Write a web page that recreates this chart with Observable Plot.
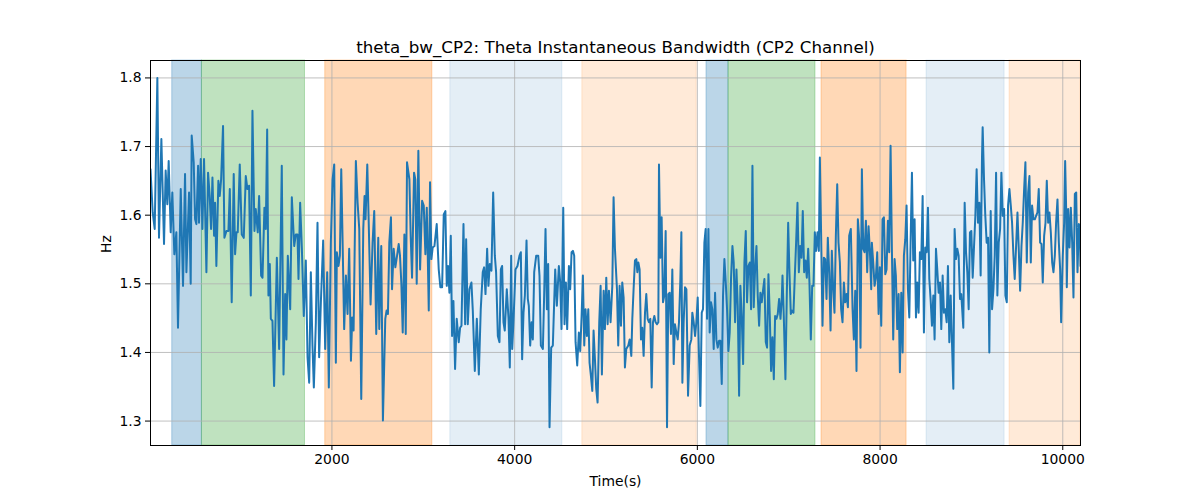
<!DOCTYPE html>
<html>
<head>
<meta charset="utf-8">
<script src="https://cdn.jsdelivr.net/npm/d3@7"></script>
<script src="https://cdn.jsdelivr.net/npm/@observablehq/plot@0.6"></script>
<style>
  html, body { margin: 0; padding: 0; background: white; }
  #chart { width: 1200px; height: 500px; }
</style>
</head>
<body>
<div id="chart"></div>
<script>
const titleText = "theta_bw_CP2: Theta Instantaneous Bandwidth (CP2 Channel)";
const xLabel = "Time(s)";
const yLabel = "Hz";
const xTicks = [2000, 4000, 6000, 8000, 10000];
const yTicks = [1.3, 1.4, 1.5, 1.6, 1.7, 1.8];
const xDomain = [14, 10194];
const yDomain = [1.2644, 1.8254];

// shaded intervals (start, end, kind)
const bandStart = [252, 577, 1927, 3296, 4741, 6100, 6341, 7359, 8509, 9418];
const bandEnd   = [577, 1705, 3099, 4522, 5993, 6341, 7293, 8290, 9363, 10194];
const bandKind  = ["blue", "green", "orange", "lightblue", "lightorange", "blue", "green", "orange", "lightblue", "lightorange"];

// series (time s, bandwidth Hz)
const seg1 = [[14,1.667],[38,1.604],[60,1.580],[89,1.800],[107,1.567],[133,1.711],[162,1.558],[180,1.665],[198,1.616],[213,1.679],[235,1.575],[253,1.633],[275,1.543],[297,1.575],[315,1.436],[345,1.638],[370,1.497],[392,1.660],[407,1.517],[436,1.633],[454,1.500],[465,1.716],[487,1.677],[502,1.594],[516,1.587],[535,1.672],[545,1.589],[564,1.682],[582,1.580],[600,1.682],[626,1.517],[644,1.662],[662,1.628],[677,1.580],[692,1.655],[710,1.570],[721,1.618],[735,1.526],[757,1.650],[772,1.628],[787,1.652],[808,1.730],[823,1.567],[845,1.577],[867,1.577],[882,1.638],[903,1.473],[925,1.660],[940,1.543],[955,1.575],[969,1.575],[991,1.674],[1013,1.572],[1035,1.567],[1057,1.657],[1075,1.638],[1093,1.643],[1112,1.483],[1130,1.752],[1152,1.577],[1166,1.609],[1188,1.575],[1203,1.628],[1225,1.512],[1240,1.509],[1261,1.611],[1276,1.580],[1291,1.725],[1305,1.483],[1320,1.529]];
const seg2 = [[1331,1.449],[1349,1.446],[1367,1.351],[1397,1.538],[1422,1.405],[1451,1.672],[1470,1.368],[1488,1.485],[1502,1.419],[1517,1.541],[1543,1.463],[1561,1.626],[1587,1.555],[1605,1.572],[1623,1.572],[1634,1.507],[1652,1.618],[1671,1.551],[1692,1.453],[1714,1.534],[1733,1.393],[1751,1.356],[1769,1.517],[1787,1.410],[1802,1.349],[1824,1.444],[1842,1.589],[1860,1.393],[1879,1.473],[1904,1.563],[1926,1.405],[1948,1.517],[1966,1.349],[1988,1.560],[2007,1.652],[2025,1.674],[2043,1.385],[2054,1.546],[2072,1.526],[2087,1.541],[2102,1.667],[2116,1.567],[2134,1.434],[2153,1.512],[2171,1.456],[2189,1.551],[2208,1.388],[2222,1.451],[2237,1.432],[2262,1.679],[2281,1.618],[2299,1.580],[2321,1.332],[2343,1.580],[2357,1.628],[2368,1.594],[2387,1.674],[2401,1.599],[2423,1.470],[2445,1.560],[2463,1.606],[2485,1.427],[2507,1.567],[2518,1.434],[2540,1.555],[2558,1.301],[2584,1.449],[2598,1.461],[2613,1.456],[2628,1.560],[2646,1.597]];
const seg3 = [[2658,1.492],[2676,1.551],[2694,1.524],[2713,1.541],[2731,1.558],[2745,1.541],[2760,1.500],[2775,1.429],[2793,1.572],[2808,1.427],[2822,1.677],[2848,1.652],[2862,1.570],[2877,1.509],[2899,1.662],[2913,1.652],[2928,1.500],[2946,1.694],[2965,1.521],[2987,1.621],[3005,1.614],[3023,1.543],[3038,1.611],[3049,1.541],[3060,1.461],[3074,1.648],[3089,1.536],[3103,1.553],[3122,1.555],[3147,1.587],[3169,1.521],[3187,1.495],[3206,1.495],[3224,1.601],[3242,1.606],[3257,1.497],[3271,1.526],[3286,1.487],[3301,1.570],[3315,1.424],[3330,1.475],[3348,1.376],[3366,1.449],[3388,1.415],[3403,1.436],[3418,1.439],[3440,1.587],[3458,1.441],[3469,1.565],[3487,1.441],[3505,1.492],[3527,1.502],[3542,1.461],[3564,1.373],[3586,1.449],[3608,1.368],[3629,1.463],[3651,1.517],[3666,1.524],[3681,1.485],[3699,1.551],[3713,1.497],[3728,1.529],[3746,1.519],[3765,1.633],[3783,1.541],[3797,1.517],[3816,1.424],[3834,1.415],[3849,1.521],[3863,1.526],[3878,1.444],[3892,1.432],[3914,1.492],[3933,1.449],[3947,1.378],[3962,1.541]];
const seg4 = [[3973,1.405],[3987,1.444],[4009,1.521],[4031,1.526],[4053,1.541],[4068,1.546],[4082,1.390],[4097,1.458],[4112,1.483],[4130,1.563],[4144,1.478],[4155,1.468],[4170,1.410],[4185,1.444],[4199,1.419],[4214,1.517],[4236,1.541],[4258,1.541],[4272,1.512],[4287,1.410],[4309,1.405],[4323,1.483],[4338,1.580],[4353,1.463],[4367,1.529],[4382,1.291],[4400,1.407],[4418,1.410],[4444,1.521],[4462,1.468],[4484,1.526],[4499,1.502],[4513,1.434],[4532,1.611],[4546,1.441],[4561,1.502],[4575,1.434],[4594,1.526],[4608,1.492],[4623,1.546],[4638,1.548],[4652,1.541],[4667,1.415],[4685,1.381],[4703,1.429],[4718,1.402],[4733,1.453],[4747,1.512],[4762,1.410],[4776,1.463],[4791,1.424],[4806,1.463],[4820,1.385],[4835,1.366],[4850,1.344],[4864,1.432],[4879,1.390],[4893,1.347],[4908,1.327],[4926,1.444],[4941,1.497],[4955,1.368],[4974,1.490],[4988,1.434],[5003,1.509],[5018,1.441],[5032,1.490],[5050,1.444],[5069,1.497],[5083,1.626],[5098,1.551],[5120,1.492],[5134,1.410],[5149,1.497],[5164,1.439],[5178,1.502],[5193,1.480],[5207,1.378],[5222,1.405],[5244,1.410],[5259,1.419],[5277,1.395]];
const seg5 = [[5288,1.449],[5302,1.492],[5317,1.534],[5332,1.536],[5343,1.517],[5354,1.531],[5368,1.521],[5383,1.419],[5397,1.436],[5412,1.395],[5427,1.458],[5441,1.485],[5456,1.449],[5470,1.444],[5485,1.449],[5500,1.349],[5514,1.444],[5529,1.453],[5543,1.444],[5558,1.441],[5573,1.444],[5580,1.674],[5595,1.538],[5609,1.597],[5624,1.473],[5638,1.483],[5653,1.577],[5668,1.291],[5682,1.485],[5697,1.487],[5711,1.427],[5726,1.521],[5741,1.383],[5755,1.441],[5770,1.429],[5785,1.419],[5799,1.444],[5814,1.507],[5825,1.575],[5836,1.356],[5850,1.444],[5865,1.495],[5880,1.492],[5898,1.337],[5916,1.410],[5934,1.419],[5945,1.458],[5960,1.444],[5975,1.424],[5989,1.444],[6004,1.480],[6018,1.395],[6033,1.322],[6048,1.458],[6062,1.463],[6077,1.560],[6091,1.580],[6106,1.449],[6121,1.580],[6135,1.429],[6150,1.473],[6164,1.463],[6179,1.405],[6194,1.487],[6208,1.419],[6223,1.407],[6238,1.417],[6252,1.417],[6267,1.354],[6281,1.483],[6296,1.536],[6311,1.502],[6325,1.463],[6340,1.402],[6354,1.429],[6369,1.509],[6384,1.555],[6398,1.531],[6413,1.444],[6428,1.521],[6442,1.468],[6457,1.337],[6471,1.497],[6486,1.451],[6501,1.383],[6515,1.531],[6530,1.577],[6544,1.473],[6559,1.526],[6574,1.531],[6588,1.463]];
const seg6 = [[6603,1.672],[6617,1.466],[6632,1.521],[6647,1.555],[6661,1.483],[6676,1.439],[6690,1.487],[6705,1.473],[6720,1.492],[6734,1.507],[6749,1.415],[6763,1.407],[6778,1.514],[6793,1.453],[6807,1.373],[6822,1.422],[6837,1.361],[6851,1.453],[6866,1.449],[6880,1.456],[6895,1.478],[6910,1.449],[6924,1.478],[6932,1.512],[6946,1.453],[6964,1.361],[6979,1.483],[6994,1.589],[7008,1.517],[7023,1.456],[7037,1.461],[7052,1.458],[7067,1.512],[7081,1.560],[7096,1.618],[7111,1.517],[7125,1.555],[7140,1.538],[7154,1.606],[7169,1.517],[7184,1.534],[7198,1.509],[7213,1.551],[7227,1.502],[7242,1.419],[7257,1.497],[7271,1.497],[7286,1.575],[7300,1.548],[7315,1.575],[7330,1.548],[7341,1.684],[7355,1.570],[7370,1.439],[7385,1.538],[7399,1.536],[7414,1.478],[7428,1.567],[7443,1.517],[7458,1.432],[7472,1.548],[7487,1.492],[7501,1.458],[7516,1.570],[7531,1.645],[7545,1.560],[7560,1.531],[7574,1.463],[7589,1.444],[7604,1.502],[7618,1.473],[7633,1.485],[7648,1.466],[7662,1.570],[7680,1.580],[7699,1.463],[7713,1.419],[7728,1.490],[7742,1.373],[7757,1.594],[7772,1.565],[7786,1.407],[7801,1.667],[7816,1.551],[7830,1.546],[7845,1.592],[7859,1.517],[7874,1.584],[7889,1.546],[7903,1.492]];
const seg7 = [[7910,1.560],[7925,1.531],[7940,1.497],[7954,1.509],[7969,1.546],[7984,1.456],[7998,1.524],[8013,1.439],[8027,1.594],[8042,1.597],[8057,1.514],[8071,1.521],[8086,1.592],[8100,1.546],[8115,1.701],[8130,1.546],[8144,1.419],[8159,1.536],[8173,1.512],[8188,1.434],[8203,1.485],[8217,1.371],[8232,1.487],[8247,1.400],[8261,1.541],[8276,1.565],[8290,1.614],[8305,1.492],[8320,1.451],[8334,1.560],[8349,1.662],[8363,1.534],[8378,1.594],[8393,1.451],[8407,1.502],[8422,1.458],[8436,1.546],[8451,1.536],[8466,1.628],[8480,1.429],[8495,1.553],[8510,1.546],[8524,1.611],[8539,1.507],[8553,1.478],[8568,1.439],[8583,1.483],[8597,1.419],[8612,1.551],[8626,1.521],[8641,1.487],[8656,1.502],[8670,1.434],[8685,1.512],[8699,1.458],[8714,1.463],[8729,1.444],[8743,1.526],[8758,1.415],[8773,1.483],[8787,1.415],[8802,1.347],[8816,1.580],[8831,1.536],[8846,1.551],[8860,1.541],[8875,1.478],[8889,1.485],[8911,1.436],[8926,1.618],[8941,1.546],[8955,1.517],[8970,1.463],[8984,1.575],[8999,1.577],[9014,1.509],[9028,1.553],[9043,1.599],[9057,1.667],[9072,1.589],[9087,1.618],[9101,1.512],[9116,1.686],[9123,1.728],[9138,1.652],[9152,1.599],[9167,1.560],[9182,1.567],[9196,1.400]];
const seg8 = [[9211,1.606],[9226,1.463],[9241,1.492],[9255,1.541],[9270,1.662],[9284,1.483],[9299,1.560],[9314,1.580],[9328,1.662],[9343,1.599],[9358,1.609],[9372,1.483],[9387,1.473],[9401,1.614],[9416,1.638],[9431,1.614],[9445,1.589],[9460,1.541],[9474,1.507],[9489,1.555],[9504,1.604],[9518,1.551],[9533,1.490],[9548,1.555],[9562,1.589],[9577,1.638],[9591,1.677],[9606,1.531],[9621,1.633],[9635,1.657],[9650,1.531],[9664,1.614],[9679,1.594],[9694,1.594],[9708,1.599],[9723,1.604],[9737,1.638],[9752,1.560],[9767,1.558],[9781,1.502],[9796,1.570],[9811,1.589],[9825,1.650],[9840,1.589],[9854,1.604],[9869,1.575],[9884,1.531],[9898,1.517],[9913,1.541],[9927,1.589],[9942,1.623],[9957,1.560],[9971,1.521],[9982,1.444],[10000,1.541],[10015,1.589],[10026,1.679],[10037,1.609],[10044,1.495],[10059,1.609],[10074,1.553],[10088,1.611],[10103,1.560],[10117,1.480],[10132,1.631],[10147,1.633],[10161,1.517],[10176,1.587],[10186,1.584],[10194,1.526]];

const series = [...seg1, ...seg2, ...seg3, ...seg4, ...seg5, ...seg6, ...seg7, ...seg8].map(([t, v]) => ({t, v}));
const bands = bandStart.map((s, i) => ({start: s, end: bandEnd[i], kind: bandKind[i]}));

const bandStyle = {
  blue: {color: "#1f77b4", opacity: 0.3},
  green: {color: "#2ca02c", opacity: 0.3},
  orange: {color: "#ff7f0e", opacity: 0.3},
  lightblue: {color: "#1f77b4", opacity: 0.12},
  lightorange: {color: "#ff7f0e", opacity: 0.16}
};

const bandMarks = Object.entries(bandStyle).map(([kind, st]) =>
  Plot.rect(bands.filter(d => d.kind === kind), {
    x1: "start", x2: "end",
    fill: st.color, fillOpacity: st.opacity,
    stroke: st.color, strokeOpacity: st.opacity, strokeWidth: 1
  })
);

const font = "DejaVu Sans, sans-serif";
const fmtX = d3.format("d");
const fmtY = d3.format(".1f");

const chart = Plot.plot({
  width: 1200,
  height: 500,
  marginLeft: 150,
  marginRight: 120,
  marginTop: 60,
  marginBottom: 55,
  style: {fontFamily: font, fontSize: "13.9px", color: "black", background: "white", overflow: "visible"},
  x: {domain: xDomain},
  y: {domain: yDomain},
  marks: [
    ...bandMarks,
    Plot.gridX(xTicks, {stroke: "#b0b0b0", strokeOpacity: 1, strokeWidth: 0.8}),
    Plot.gridY(yTicks, {stroke: "#b0b0b0", strokeOpacity: 1, strokeWidth: 0.8}),
    Plot.line(series, {x: "t", y: "v", stroke: "#1f77b4", strokeWidth: 2, clip: true}),
    Plot.frame({stroke: "black", strokeWidth: 1}),
    Plot.axisX(xTicks, {tickSize: 5, tickPadding: 4, tickFormat: fmtX, label: null, fontSize: 13.9, stroke: "black"}),
    Plot.axisY(yTicks, {tickSize: 5, tickPadding: 4, tickFormat: fmtY, label: null, fontSize: 13.9, stroke: "black"}),
    Plot.text([titleText], {frameAnchor: "top", dy: -8, lineAnchor: "bottom", fontSize: 16.7, fill: "black"}),
    Plot.text([xLabel], {frameAnchor: "bottom", dy: 36, lineAnchor: "middle", fontSize: 13.9, fill: "black"}),
    Plot.text([yLabel], {frameAnchor: "left", dx: -44, rotate: -90, lineAnchor: "middle", fontSize: 13.9, fill: "black"})
  ]
});

document.getElementById("chart").appendChild(chart);
</script>
</body>
</html>
